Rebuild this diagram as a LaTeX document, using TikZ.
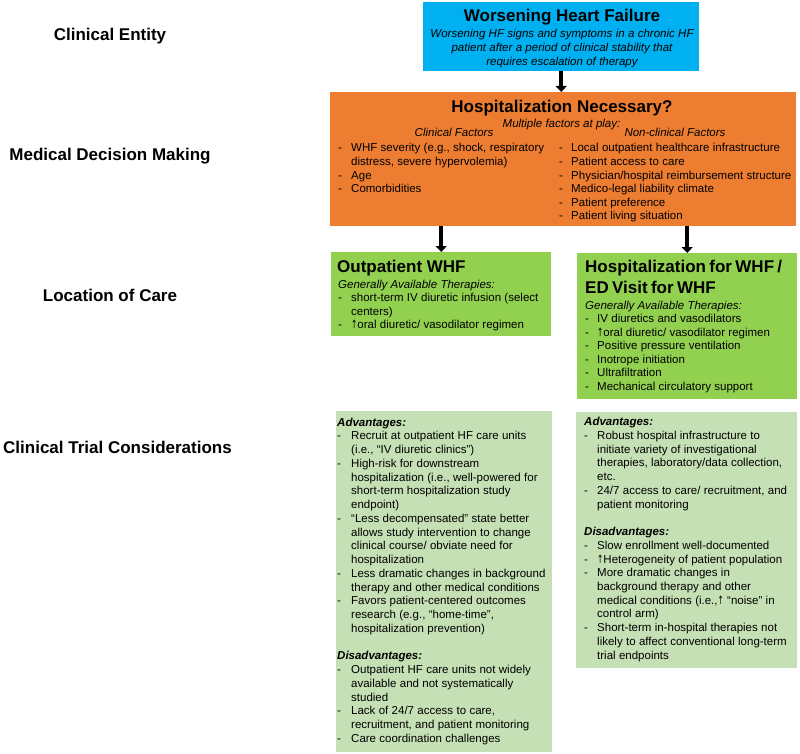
\documentclass[tikz,border=0pt]{standalone}
\usepackage{fontspec}
\setmainfont{Liberation Sans}
\newfontfamily\arrowfont{DejaVu Sans}
\usepackage{graphicx}
\usetikzlibrary{arrows.meta,calc}
\definecolor{hfblue}{HTML}{00B0F0}
\definecolor{hforange}{HTML}{ED7D31}
\definecolor{hfgreen}{HTML}{92D050}
\definecolor{hflight}{HTML}{C5E0B4}
\newlength{\hind}
\newcommand{\itm}[1]{\par\noindent\hangindent=\hind\hangafter=1\makebox[\hind][l]{-}#1}
\newcommand{\fitm}[1]{\hangindent=\hind\hangafter=1\makebox[\hind][l]{-}#1}
\newcommand{\hdr}[1]{\par\noindent#1}
\newcommand{\blankline}{\par\vspace{\baselineskip}}
\newcommand{\uparr}{{\arrowfont\scalebox{0.65}[1]{↑}}}
\newcommand{\ttlfont}{\fontsize{17}{20.6}\selectfont\bfseries}
\newcommand{\bodyfont}{\fontsize{11.5}{13.55}\selectfont}
\newcommand{\lowfont}{\fontsize{11.5}{13.75}\selectfont}
\tikzset{
  box/.style={rectangle, inner sep=0pt, anchor=north west},
  ttl/.style={font=\ttlfont, inner sep=0pt, anchor=base west},
  body/.style={inner sep=0pt, anchor=base west, align=left},
  lbl/.style={font=\fontsize{17}{20}\selectfont\bfseries, inner sep=0pt, anchor=base},
  bigarrow/.style={line width=4.5pt, -{Triangle[width=11pt,length=6pt]}},
}
\begin{document}
\begin{tikzpicture}[x=1pt,y=1pt]
\path[use as bounding box, fill=white] (0,0) rectangle (800,-754);

% left labels
\node[lbl] (l1) at (110,-41) {Clinical Entity};
\node[lbl] (l2) at (110,-160.7) {Medical Decision Making};
\node[lbl] (l3) at (110,-301.7) {Location of Care};
\node[lbl] (l4) at (117.5,-453) {Clinical Trial Considerations};

% clinical entity
\node[box, fill=hfblue, minimum width=276pt, minimum height=69pt] (whf) at (423,-2) {};
\node[ttl, anchor=base] (whft) at (562,-22) {Worsening Heart Failure};
\node[body, anchor=base, align=center, text width=276pt] (whfb) at (562,-37.5)
  {\fontsize{11.5}{14}\selectfont\itshape Worsening HF signs and symptoms in a chronic HF\\ patient after a period of clinical stability that\\ requires escalation of therapy\par};

% decision making
\node[box, fill=hforange, minimum width=466pt, minimum height=134pt] (dec) at (330,-92) {};
\node[ttl, anchor=base] (dect) at (562,-112.3) {Hospitalization Necessary?};
\node[body, anchor=base, font=\bodyfont\itshape] (decm) at (561.5,-127.3) {Multiple factors at play:};
\node[body, anchor=base, font=\bodyfont\itshape] (decc) at (454,-137) {Clinical Factors};
\node[body, anchor=base, font=\bodyfont\itshape] (decn) at (675,-137) {Non-clinical Factors};
\node[body, text width=215pt] (decl) at (338,-152) {\bodyfont\setlength{\hind}{13pt}%
  \fitm{WHF severity (e.g., shock, respiratory\newline distress, severe hypervolemia)}%
  \itm{Age}%
  \itm{Comorbidities}\par};
\node[body, text width=236pt] (decr) at (559,-152) {\bodyfont\setlength{\hind}{12pt}%
  \fitm{Local outpatient healthcare infrastructure}%
  \itm{Patient access to care}%
  \itm{Physician/hospital reimbursement structure}%
  \itm{Medico-legal liability climate}%
  \itm{Patient preference}%
  \itm{Patient living situation}\par};

% location of care
\node[box, fill=hfgreen, minimum width=220pt, minimum height=84pt] (outp) at (331,-252) {};
\node[ttl] (outpt) at (337,-272.5) {Outpatient WHF};
\node[body, text width=212pt] (outpb) at (338,-288.3) {\bodyfont\setlength{\hind}{13pt}%
  \textit{Generally Available Therapies:}%
  \itm{short-term IV diuretic infusion (select\newline centers)}%
  \itm{\uparr oral diuretic/ vasodilator regimen}\par};

\node[box, fill=hfgreen, minimum width=220pt, minimum height=146pt] (inp) at (577,-253) {};
\node[body, text width=212pt] (inpt) at (585,-272.7) {\ttlfont Hospitalization for WHF /\newline ED Visit for WHF\par};
\node[body, text width=212pt] (inpb) at (585,-309) {\bodyfont\setlength{\hind}{12pt}%
  \textit{Generally Available Therapies:}%
  \itm{IV diuretics and vasodilators}%
  \itm{\uparr oral diuretic/ vasodilator regimen}%
  \itm{Positive pressure ventilation}%
  \itm{Inotrope initiation}%
  \itm{Ultrafiltration}%
  \itm{Mechanical circulatory support}\par};

% clinical trial considerations
\node[box, fill=hflight, minimum width=216pt, minimum height=341pt] (ctl) at (336,-411) {};
\node[body, text width=214pt] (ctlb) at (337,-426.2) {\lowfont\setlength{\hind}{14pt}%
  \textbf{\textit{Advantages:}}%
  \itm{Recruit at outpatient HF care units\newline (i.e., “IV diuretic clinics”)}%
  \itm{High-risk for downstream\newline hospitalization (i.e., well-powered for\newline short-term hospitalization study\newline endpoint)}%
  \itm{“Less decompensated” state better\newline allows study intervention to change\newline clinical course/ obviate need for\newline hospitalization}%
  \itm{Less dramatic changes in background\newline therapy and other medical conditions}%
  \itm{Favors patient-centered outcomes\newline research (e.g., “home-time”,\newline hospitalization prevention)}%
  \blankline
  \hdr{\textbf{\textit{Disadvantages:}}}%
  \itm{Outpatient HF care units not widely\newline available and not systematically\newline studied}%
  \itm{Lack of 24/7 access to care,\newline recruitment, and patient monitoring}%
  \itm{Care coordination challenges}\par};

\node[box, fill=hflight, minimum width=221pt, minimum height=256pt] (ctr) at (576,-412) {};
\node[body, text width=212pt] (ctrb) at (584,-425.7) {\fontsize{11.5}{13.73}\selectfont\setlength{\hind}{13pt}%
  \textbf{\textit{Advantages:}}%
  \itm{Robust hospital infrastructure to\newline initiate variety of investigational\newline therapies, laboratory/data collection,\newline etc.}%
  \itm{24/7 access to care/ recruitment, and\newline patient monitoring}%
  \blankline
  \hdr{\textbf{\textit{Disadvantages:}}}%
  \itm{Slow enrollment well-documented}%
  \itm{\uparr Heterogeneity of patient population}%
  \itm{More dramatic changes in\newline background therapy and other\newline medical conditions (i.e.,\uparr\ “noise” in\newline control arm)}%
  \itm{Short-term in-hospital therapies not\newline likely to affect conventional long-term\newline trial endpoints}\par};

% connectors
\draw[bigarrow] (whf.south) -- (whf.south |- dec.north);
\draw[bigarrow] (outp.north |- dec.south) -- (outp.north);
\draw[bigarrow] (inp.north |- dec.south) -- (inp.north);
\end{tikzpicture}
\end{document}
